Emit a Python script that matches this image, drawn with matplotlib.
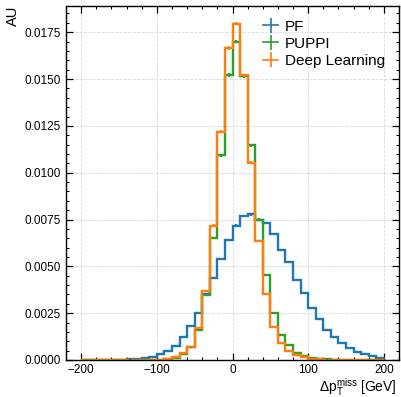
import numpy as np
import matplotlib
matplotlib.use("Agg")
import matplotlib.pyplot as plt
from matplotlib.ticker import MultipleLocator, FormatStrFormatter

# Normalised MET resolution histograms, 10 GeV bins from -200 to 200 GeV
bin_edges = np.arange(-200, 201, 10)

pf = [0, 0, 0.000003, 0.000005, 0.00001, 0.00002, 0.00003, 0.00005, 0.00009, 0.00018,
      0.0003, 0.00048, 0.00077, 0.00125, 0.00184, 0.00253, 0.0035, 0.0044, 0.0054, 0.0064,
      0.00718, 0.00768, 0.00777, 0.0075, 0.00732, 0.00673, 0.00585, 0.00521, 0.00428, 0.00357,
      0.00278, 0.00218, 0.0016, 0.00125, 0.00089, 0.00063, 0.00045, 0.00032, 0.00021, 0.00012]

puppi = [0, 0, 0, 0, 0, 0, 0, 0, 0, 0.00001,
         0.00002, 0.00005, 0.00013, 0.00033, 0.00068, 0.0016, 0.00345, 0.00652, 0.01093, 0.01521,
         0.017, 0.01515, 0.01147, 0.0075, 0.00455, 0.0025, 0.00136, 0.00078, 0.0004, 0.00024,
         0.00013, 0.00006, 0.00003, 0.00002, 0.00001, 0, 0, 0, 0, 0]

deep = [0, 0, 0, 0, 0, 0, 0, 0, 0, 0,
        0.00002, 0.00005, 0.00014, 0.00035, 0.0007, 0.0017, 0.0037, 0.00718, 0.01218, 0.01666,
        0.01796, 0.0152, 0.01053, 0.00635, 0.00352, 0.00178, 0.0009, 0.0005, 0.00028, 0.00018,
        0.00008, 0.00004, 0.00002, 0.00001, 0, 0, 0, 0, 0, 0]

labels = ["PF", "PUPPI", "Deep Learning"]
colors = ["#1f77b4", "#2ca02c", "#ff7f0e"]
n_events = 200000  # assumed sample size for the statistical error bars

plt.rcParams["font.family"] = ["Liberation Sans", "DejaVu Sans"]
plt.rcParams["mathtext.fontset"] = "custom"
plt.rcParams["mathtext.rm"] = "Liberation Sans"
plt.rcParams["mathtext.it"] = "Liberation Sans:italic"
plt.rcParams["mathtext.bf"] = "Liberation Sans:bold"

fig = plt.figure(figsize=(4.01, 3.97), dpi=100)
ax = fig.add_axes([66 / 401, 37 / 397, 333 / 401, 354 / 397])

centers = 0.5 * (bin_edges[1:] + bin_edges[:-1])
width = bin_edges[1] - bin_edges[0]
handles = []
for vals, lab, col in zip([pf, puppi, deep], labels, colors):
    vals = np.asarray(vals)
    err = np.sqrt(vals * width * n_events) / (n_events * width)
    ax.stairs(vals, bin_edges, color=col, lw=1.7, baseline=0)
    ax.errorbar(centers, vals, yerr=err, fmt="none", ecolor=col, elinewidth=1.6)
    h = ax.errorbar([np.nan], [np.nan], yerr=[1], color=col, lw=1.2, label=lab)
    handles.append(h)

ax.set_xlim(-220, 220)
ax.set_ylim(0, 0.0189)
ax.xaxis.set_major_locator(MultipleLocator(100))
ax.xaxis.set_minor_locator(MultipleLocator(20))
ax.yaxis.set_major_locator(MultipleLocator(0.0025))
ax.yaxis.set_minor_locator(MultipleLocator(0.0005))
ax.yaxis.set_major_formatter(FormatStrFormatter("%.4f"))

ax.tick_params(which="both", direction="in", top=True, right=True, labelsize=8.5, pad=4)
ax.tick_params(axis="x", which="both", pad=3)
ax.tick_params(which="major", length=5, width=0.9)
ax.tick_params(which="minor", length=2.5, width=0.8)
for sp in ax.spines.values():
    sp.set_linewidth(1.0)

ax.grid(True, which="major", ls="--", lw=0.6, color="#d9d9d9")
ax.set_axisbelow(True)

ax.set_ylabel("AU", loc="top", fontsize=10.5, labelpad=3)
ax.set_xlabel(r"$\Delta \mathrm{p}_\mathrm{T}^\mathrm{miss}$ [GeV]", loc="right", fontsize=10,
              labelpad=0)
ax.xaxis.label.set_x(0.993)

ax.legend(handles=handles, loc="upper right", frameon=False, fontsize=11,
          handlelength=1.0, handletextpad=0.45, labelspacing=0.2, borderaxespad=0.5)

fig.savefig("out.png", dpi=100)
